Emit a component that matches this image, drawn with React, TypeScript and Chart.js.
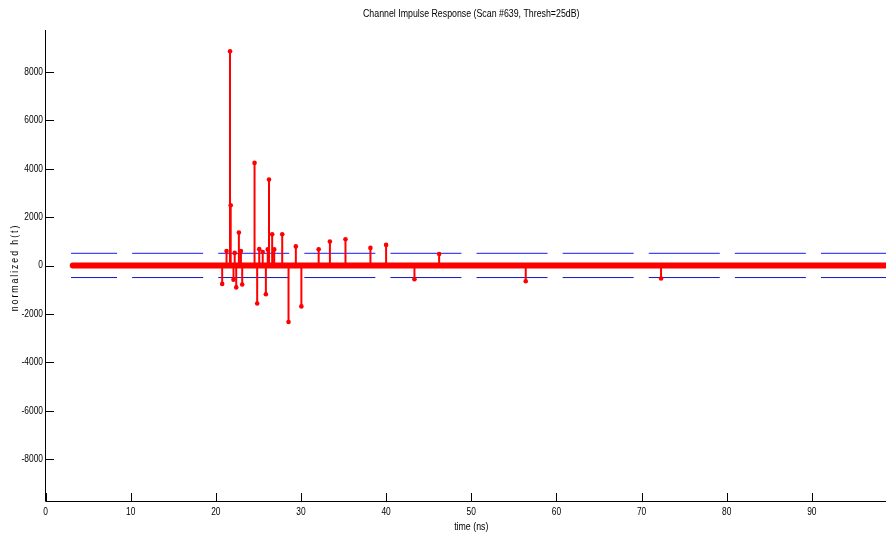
import React, { useEffect, useRef } from "react";
import { Chart, registerables } from "chart.js";

Chart.register(...registerables);

// Text
const chartTitle = "Channel Impulse Response (Scan #639, Thresh=25dB)";
const xAxisLabel = "time (ns)";
const yAxisLabel = "normalized h(t)";

// Axis limits and ticks
const timeLimits = [0, 100];
const valueLimits = [-9730, 9730];
const xTickValues = [0, 10, 20, 30, 40, 50, 60, 70, 80, 90];
const yTickValues = [-8000, -6000, -4000, -2000, 0, 2000, 4000, 6000, 8000];

// Resolved multipath components (time in ns, normalized amplitude)
const stemTimes = [
  20.75, 21.26, 21.67, 21.75, 22.08, 22.22, 22.4, 22.71, 22.95, 23.1,
  24.55, 24.86, 25.1, 25.51, 25.88, 26.1, 26.25, 26.62, 26.86, 27.8,
  28.54, 29.4, 30.05, 32.08, 33.4, 35.23, 38.16, 40.0, 43.33, 46.23,
  56.4, 72.29,
];
const stemValues = [
  -760, 600, 8850, 2490, -585, 520, -905, 1360, 595, -785,
  4240, -1570, 675, 560, -1190, 665, 3550, 1290, 665, 1290,
  -2335, 790, -1690, 673, 990, 1085, 727, 851, -570, 475,
  -648, -537,
];

// Sub-threshold samples form a dense band along zero over this span
const baselineTimes = [3.2, 100];
const baselineValues = [0, 0];

// Detection threshold (25 dB below the peak)
const thresholdTimes = [3.0, 100];
const thresholdLevel = 498;

const FONT_FAMILY = '"Liberation Sans", Arial, sans-serif';
// Condensed look: glyphs are squeezed horizontally
const SQUEEZE = 0.8;

function squeezedText(
  ctx: CanvasRenderingContext2D,
  text: string,
  x: number,
  y: number,
  align: CanvasTextAlign,
) {
  ctx.save();
  ctx.translate(x, y);
  ctx.scale(SQUEEZE, 1);
  ctx.textAlign = align;
  ctx.fillText(text, 0, 0);
  ctx.restore();
}

const axesPlugin = {
  id: "matlabAxes",
  beforeDatasetsDraw(chart: any) {
    const { ctx, chartArea, scales } = chart;
    const x = scales.x;
    const y = scales.y;
    const left = Math.floor(chartArea.left) + 0.5;
    const bottom = Math.floor(chartArea.bottom) + 0.5;
    const tickLen = 8.5;
    ctx.save();
    ctx.strokeStyle = "#000";
    ctx.lineWidth = 1;
    ctx.beginPath();
    ctx.moveTo(left, chartArea.top);
    ctx.lineTo(left, bottom);
    ctx.lineTo(chartArea.right, bottom);
    for (const v of xTickValues) {
      const px = Math.round(x.getPixelForValue(v)) + 0.5;
      ctx.moveTo(px, bottom);
      ctx.lineTo(px, bottom - tickLen);
    }
    for (const v of yTickValues) {
      const py = Math.round(y.getPixelForValue(v)) + 0.5;
      ctx.moveTo(left, py);
      ctx.lineTo(left + tickLen, py);
    }
    ctx.stroke();

    // tick labels
    ctx.fillStyle = "#000";
    ctx.font = `10.5px ${FONT_FAMILY}`;
    ctx.textBaseline = "middle";
    for (const v of xTickValues) {
      squeezedText(ctx, String(v), x.getPixelForValue(v), 512, "center");
    }
    for (const v of yTickValues) {
      squeezedText(ctx, String(v), 43, y.getPixelForValue(v), "right");
    }
    ctx.restore();
  },
  afterDraw(chart: any) {
    const { ctx, chartArea } = chart;
    const cx = (chartArea.left + chartArea.right) / 2;
    const cy = (chartArea.top + chartArea.bottom) / 2;
    ctx.save();
    ctx.fillStyle = "#000";
    ctx.textBaseline = "middle";
    ctx.font = `11px ${FONT_FAMILY}`;
    squeezedText(ctx, chartTitle, cx, 14, "center");
    squeezedText(ctx, xAxisLabel, cx, 527, "center");
    ctx.translate(15, cy + 2);
    ctx.rotate(-Math.PI / 2);
    ctx.scale(SQUEEZE, 1);
    (ctx as any).letterSpacing = "2.4px";
    ctx.textAlign = "center";
    ctx.fillText(yAxisLabel, 0, 0);
    ctx.restore();
  },
};

export default function App() {
  const canvasRef = useRef<HTMLCanvasElement | null>(null);

  useEffect(() => {
    const canvas = canvasRef.current;
    if (!canvas) return;

    const stemPoints = stemTimes.flatMap((t, i) => [
      { x: t, y: 0 },
      { x: t, y: stemValues[i] },
      { x: t, y: null },
    ]);
    const baselinePoints = baselineTimes.map((t, i) => ({ x: t, y: baselineValues[i] }));
    const upperThreshold = thresholdTimes.map((t) => ({ x: t, y: thresholdLevel }));
    const lowerThreshold = thresholdTimes.map((t) => ({ x: t, y: -thresholdLevel }));

    const chart = new Chart(canvas, {
      type: "line",
      data: {
        datasets: [
          {
            label: "baseline",
            data: baselinePoints,
            borderColor: "#ff0000",
            borderWidth: 6,
            borderCapStyle: "round",
            pointRadius: 0,
            order: 0,
          },
          {
            label: "h(t)",
            data: stemPoints as any,
            borderColor: "#ff0000",
            borderWidth: 2,
            spanGaps: false,
            pointRadius: (c: any) => (c.dataIndex % 3 === 1 ? 2.3 : 0),
            pointBackgroundColor: "#ff0000",
            pointBorderWidth: 0,
            order: 1,
          },
          {
            label: "+threshold",
            data: upperThreshold,
            borderColor: "#4646ff",
            borderWidth: 1.2,
            borderDash: [71, 15.1],
            borderDashOffset: 25,
            pointRadius: 0,
            order: 2,
          },
          {
            label: "-threshold",
            data: lowerThreshold,
            borderColor: "#1414c8",
            borderWidth: 1,
            borderDash: [71, 15.1],
            borderDashOffset: 25,
            pointRadius: 0,
            order: 2,
          },
        ],
      },
      options: {
        responsive: false,
        animation: false,
        devicePixelRatio: 1,
        layout: { padding: { top: 30, left: 0, right: 0, bottom: 0 } },
        plugins: {
          legend: { display: false },
          tooltip: { enabled: false },
          title: { display: false },
        },
        elements: { line: { tension: 0 } },
        scales: {
          x: {
            type: "linear",
            min: timeLimits[0],
            max: timeLimits[1],
            grid: { display: false, drawTicks: false },
            border: { display: false },
            ticks: { display: false },
            afterBuildTicks: (s: any) => {
              s.ticks = xTickValues.map((v) => ({ value: v }));
            },
            afterFit: (s: any) => {
              s.height = 38;
            },
          },
          y: {
            type: "linear",
            min: valueLimits[0],
            max: valueLimits[1],
            grid: { display: false, drawTicks: false },
            border: { display: false },
            ticks: { display: false },
            afterBuildTicks: (s: any) => {
              s.ticks = yTickValues.map((v) => ({ value: v }));
            },
            afterFit: (s: any) => {
              s.width = 45.5;
            },
          },
        },
      },
      plugins: [axesPlugin],
    });

    return () => chart.destroy();
  }, []);

  return (
    <div
      style={{
        position: "fixed",
        left: 0,
        top: 0,
        width: 886,
        height: 539,
        overflow: "hidden",
        background: "#fff",
      }}
    >
      <canvas ref={canvasRef} width={897} height={539} style={{ width: 897, height: 539 }} />
    </div>
  );
}
